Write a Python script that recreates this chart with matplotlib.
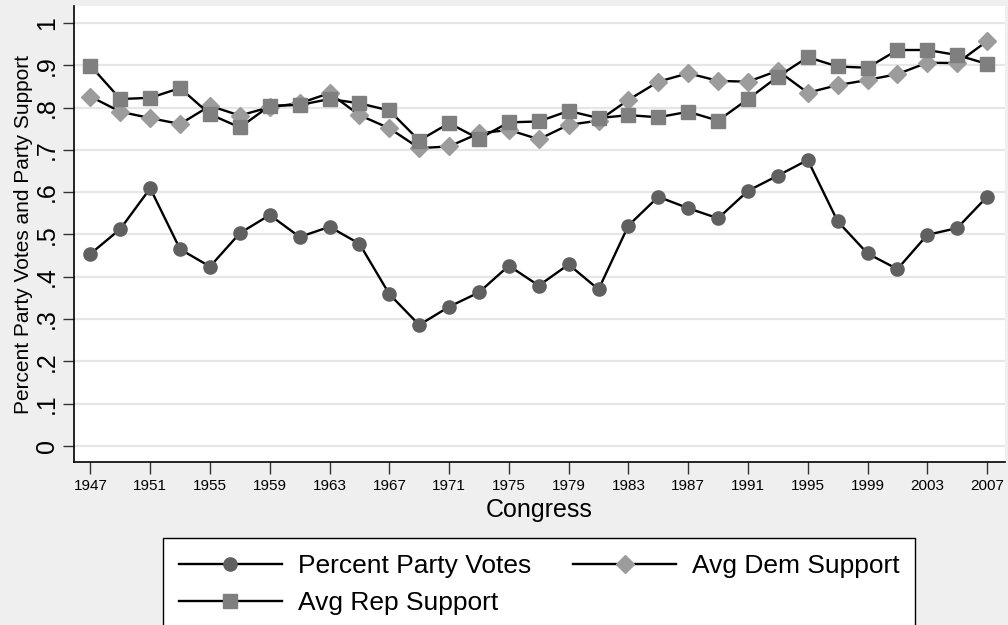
import matplotlib
matplotlib.use("Agg")
import matplotlib.pyplot as plt

plt.rcParams['font.family'] = ['Liberation Sans', 'DejaVu Sans']

# congress start years, every two years
years = list(range(1947, 2008, 2))

party_votes = [0.454, 0.513, 0.609, 0.465, 0.424, 0.503, 0.546, 0.494, 0.518, 0.478,
               0.359, 0.286, 0.329, 0.363, 0.426, 0.379, 0.429, 0.370, 0.521, 0.589,
               0.562, 0.538, 0.603, 0.639, 0.676, 0.531, 0.455, 0.418, 0.499, 0.515,
               0.589]
dem_support = [0.826, 0.790, 0.775, 0.761, 0.804, 0.781, 0.801, 0.810, 0.834, 0.782,
               0.751, 0.704, 0.708, 0.739, 0.747, 0.725, 0.759, 0.769, 0.818, 0.861,
               0.881, 0.863, 0.861, 0.887, 0.835, 0.853, 0.865, 0.879, 0.906, 0.905,
               0.957]
rep_support = [0.899, 0.820, 0.823, 0.846, 0.784, 0.753, 0.804, 0.806, 0.820, 0.810,
               0.793, 0.722, 0.763, 0.726, 0.765, 0.767, 0.792, 0.775, 0.782, 0.777,
               0.790, 0.769, 0.820, 0.873, 0.919, 0.897, 0.894, 0.936, 0.936, 0.924,
               0.903]

xticks = list(range(1947, 2008, 4))
yticks = [i / 10 for i in range(11)]
ytick_labels = ['0', '.1', '.2', '.3', '.4', '.5', '.6', '.7', '.8', '.9', '1']

fig = plt.figure(figsize=(10.08, 6.25), dpi=100, facecolor='#efefef')
ax = fig.add_axes([74 / 1008, 1 - 462 / 625, 931 / 1008, 456 / 625])
ax.set_facecolor('white')

l1, = ax.plot(years, party_votes, color='black', lw=1.7, marker='o', ms=9.5,
              mfc='#606060', mec='#606060', label='Percent Party Votes')
l2, = ax.plot(years, dem_support, color='black', lw=1.7, marker='D', ms=9.5,
              mfc='#9c9c9c', mec='#9c9c9c', label='Avg Dem Support')
l3, = ax.plot(years, rep_support, color='black', lw=1.7, marker='s', ms=9.5,
              mfc='#7f7f7f', mec='#7f7f7f', label='Avg Rep Support')

ax.set_xlim(1945.9, 2008.2)
ax.set_ylim(-0.038, 1.04)
ax.set_xticks(xticks)
ax.set_yticks(yticks)
ax.set_yticklabels(ytick_labels)
ax.grid(axis='y', color='#e6e6e6', lw=1.6)
ax.set_axisbelow(True)

for s in ['top', 'right']:
    ax.spines[s].set_visible(False)
for s in ['left', 'bottom']:
    ax.spines[s].set_linewidth(1.2)

ax.tick_params(axis='x', length=8.5, width=1, color='#333333', labelsize=11, pad=4)
ax.tick_params(axis='y', length=8, width=1, color='#333333', labelsize=18, pad=3,
               labelrotation=90)
for t in ax.get_yticklabels():
    t.set_va('center')

ax.set_xlabel('Congress', fontsize=18)
ax.xaxis.set_label_coords(0.5, -0.08)
ax.set_ylabel('Percent Party Votes and Party Support', fontsize=15)
ax.yaxis.set_label_coords(-0.044, 0.5)

# legend box runs off the bottom edge, as in the original
leg = fig.legend(handles=[l1, l3, l2], ncol=2, loc='upper left',
                 bbox_to_anchor=(163 / 1008, 1 - 538 / 625), borderaxespad=0,
                 fontsize=19, handlelength=3.9, handletextpad=0.6,
                 columnspacing=1.6, labelspacing=0.5, borderpad=0.6,
                 numpoints=1, fancybox=False, framealpha=1, edgecolor='black')
leg.get_frame().set_linewidth(1)

fig.savefig('out.png', dpi=100, facecolor=fig.get_facecolor())
